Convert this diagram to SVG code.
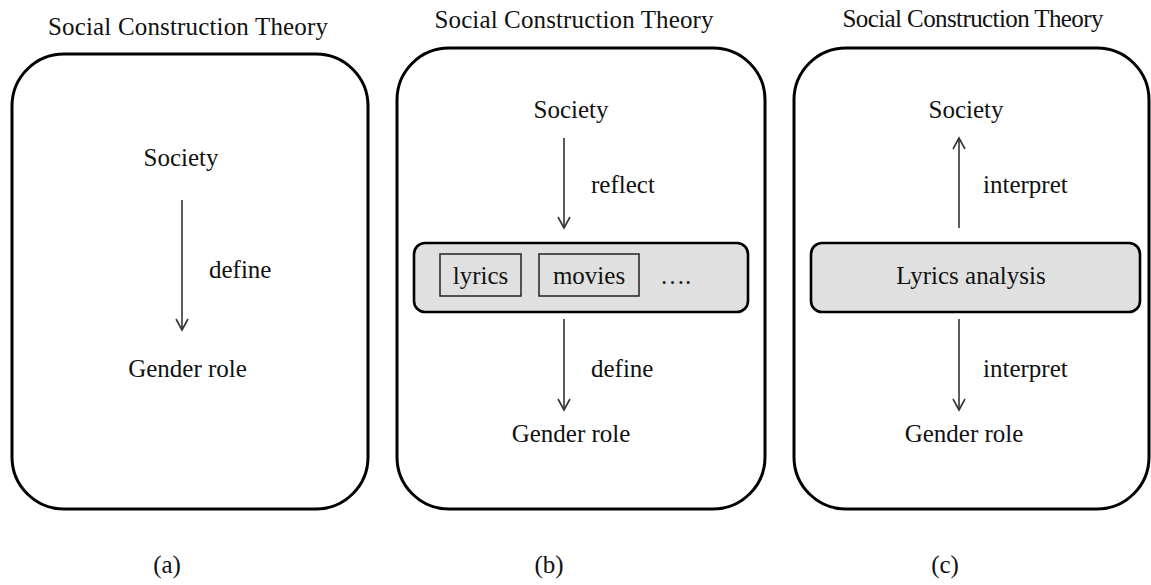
<svg xmlns="http://www.w3.org/2000/svg" width="1151" height="585" viewBox="0 0 1151 585">
<style>
text{font-family:"Liberation Serif","Times New Roman",serif;fill:#111;}
.t{font-size:25px;text-anchor:middle;}
.b{font-size:25px;}
.frame{fill:#fff;stroke:#000;stroke-width:3;}
.band{fill:#e0e0e0;stroke:#000;stroke-width:2.6;}
.item{fill:none;stroke:#222;stroke-width:1.5;}
.arr{stroke:#333;stroke-width:1.6;fill:none;marker-end:url(#ah);}
</style>
<defs>
<marker id="ah" markerUnits="userSpaceOnUse" markerWidth="16" markerHeight="16" refX="12" refY="7" orient="auto">
<path d="M1,1 L12,7 L1,13" fill="none" stroke="#333" stroke-width="1.6"/>
</marker>
</defs>
<rect width="1151" height="585" fill="#fff"/>

<g id="panel-a">
<text class="t" x="188" y="35" textLength="280" lengthAdjust="spacing">Social Construction Theory</text>
<rect class="frame" x="12" y="54" width="356" height="455" rx="52" ry="52"/>
<text class="t" x="181" y="166">Society</text>
<text class="b" x="209" y="278">define</text>
<text class="t" x="187.5" y="377">Gender role</text>
<text class="t" x="167" y="573">(a)</text>
</g>

<g id="panel-b">
<text class="t" x="574" y="28" textLength="279" lengthAdjust="spacing">Social Construction Theory</text>
<rect class="frame" x="397" y="48" width="368" height="461" rx="52" ry="52"/>
<text class="t" x="571" y="118">Society</text>
<text class="b" x="591" y="193">reflect</text>
<rect class="band" x="414" y="243" width="334" height="69" rx="11" ry="11"/>
<rect class="item" x="440" y="254" width="81" height="42"/>
<text class="t" x="480.5" y="284">lyrics</text>
<rect class="item" x="539" y="254" width="100" height="42"/>
<text class="t" x="589" y="284">movies</text>
<text class="b" x="660" y="284">….</text>
<text class="b" x="591" y="377">define</text>
<text class="t" x="571" y="442">Gender role</text>
<text class="t" x="549" y="573">(b)</text>
</g>

<g id="panel-c">
<text class="t" x="973" y="27" textLength="261" lengthAdjust="spacing">Social Construction Theory</text>
<rect class="frame" x="794" y="48" width="355" height="461" rx="52" ry="52"/>
<text class="t" x="966" y="118">Society</text>
<text class="b" x="983" y="193">interpret</text>
<rect class="band" x="811" y="243" width="329" height="69" rx="11" ry="11"/>
<text class="t" x="971" y="284">Lyrics analysis</text>
<text class="b" x="983" y="377">interpret</text>
<text class="t" x="964" y="442">Gender role</text>
<text class="t" x="945" y="573">(c)</text>
</g>

<g id="connectors">
<line class="arr" x1="182" y1="200" x2="182" y2="330"/>
<line class="arr" x1="564" y1="138" x2="564" y2="228"/>
<line class="arr" x1="564" y1="319" x2="564" y2="410"/>
<line class="arr" x1="959" y1="228" x2="959" y2="138"/>
<line class="arr" x1="959" y1="319" x2="959" y2="410"/>
</g>
</svg>
